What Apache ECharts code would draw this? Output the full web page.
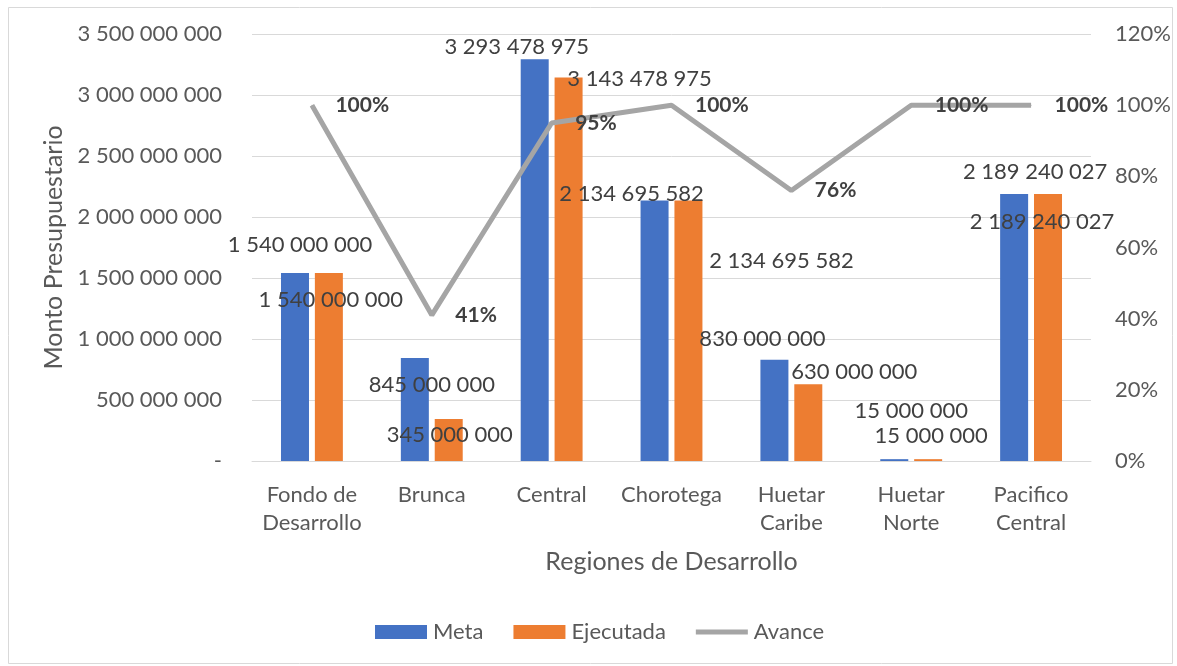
<!DOCTYPE html>
<html>
<head>
<meta charset="utf-8">
<script src="https://cdn.jsdelivr.net/npm/echarts@6/dist/echarts.min.js"></script>
<style>html,body{margin:0;padding:0;background:#fff}#c{width:1177px;height:666px}</style>
</head>
<body>
<div id="c"></div>
<script>
const categories = ['Fondo de\nDesarrollo', 'Brunca', 'Central', 'Chorotega', 'Huetar\nCaribe', 'Huetar\nNorte', 'Pacifico\nCentral'];
const meta = [1540000000, 845000000, 3293478975, 2134695582, 830000000, 15000000, 2189240027];
const ejecutada = [1540000000, 345000000, 3143478975, 2134695582, 630000000, 15000000, 2189240027];
const avance = [100, 41, 95, 100, 76, 100, 100];

// label placement (style only), mimicking the original layout
const metaLabelOffsets = [[5,-12],[17,43],[-18,4],[-23,9],[-12,-5],[17,-32],[21,-6]];
const ejecLabelOffsets = [[2,43],[1,32],[71,17],[93,76],[46,4],[3,-7],[-6,44]];
const avanceLabelOffsets = [[0,4],[0,5],[-28,5],[0,4],[0,5],[0,4],[0,4]];

const FONT = 'Lato';
const fmt = v => String(v).replace(/\B(?=(\d{3})+(?!\d))/g, ' ');

const chart = echarts.init(document.getElementById('c'), null, {renderer: 'canvas'});
chart.setOption({
  animation: false,
  backgroundColor: '#fff',
  textStyle: {fontFamily: FONT},
  graphic: [{
    type: 'rect', left: 6, top: 5, z: -1,
    shape: {width: 1164, height: 656},
    style: {fill: 'none', stroke: '#D9D9D9', lineWidth: 1}
  }],
  grid: {left: 252, right: 86, top: 34, bottom: 205},
  legend: {
    top: 616, left: 370, itemGap: 30, itemWidth: 52, itemHeight: 14,
    textStyle: {fontFamily: FONT, fontSize: 22, color: '#595959', padding: [0,0,0,1]},
    data: [
      {name: 'Meta', icon: 'rect'},
      {name: 'Ejecutada', icon: 'rect'},
      {name: 'Avance', icon: 'path://M0,0 L52,0 L52,5 L0,5 Z'}
    ]
  },
  xAxis: {
    type: 'category', data: categories,
    name: 'Regiones de Desarrollo', nameLocation: 'middle', nameGap: 88,
    nameTextStyle: {fontFamily: FONT, fontSize: 25, color: '#595959'},
    axisLine: {lineStyle: {color: '#D9D9D9'}},
    axisTick: {show: false},
    axisLabel: {fontFamily: FONT, fontSize: 22, color: '#595959', margin: 20, lineHeight: 28, interval: 0}
  },
  yAxis: [{
    type: 'value', min: 0, max: 3500000000, interval: 500000000,
    name: 'Monto Presupuestario', nameLocation: 'middle', nameGap: 178, nameRotate: 90,
    nameTextStyle: {fontFamily: FONT, fontSize: 25, color: '#595959'},
    axisLine: {show: false}, axisTick: {show: false},
    splitLine: {lineStyle: {color: '#D9D9D9', width: 1}},
    axisLabel: {fontFamily: FONT, fontSize: 22, color: '#595959', margin: 30,
      formatter: v => v === 0 ? '-' : fmt(v)}
  }, {
    type: 'value', min: 0, max: 120, interval: 20,
    axisLine: {show: false}, axisTick: {show: false}, splitLine: {show: false},
    axisLabel: {fontFamily: FONT, fontSize: 22, color: '#595959', margin: 24, formatter: '{value}%'}
  }],
  series: [{
    name: 'Meta', type: 'bar', barWidth: 28, barGap: '21%',
    itemStyle: {color: '#4472C4'},
    label: {show: true, position: 'top', distance: 5, fontFamily: FONT, fontSize: 22, lineHeight: 22, color: '#404040',
      formatter: p => fmt(p.value)},
    data: meta.map((v, i) => ({value: v, label: {offset: metaLabelOffsets[i]}}))
  }, {
    name: 'Ejecutada', type: 'bar', barWidth: 28,
    itemStyle: {color: '#ED7D31'},
    label: {show: true, position: 'top', distance: 5, fontFamily: FONT, fontSize: 22, lineHeight: 22, color: '#404040',
      formatter: p => fmt(p.value)},
    data: ejecutada.map((v, i) => ({value: v, label: {offset: ejecLabelOffsets[i]}}))
  }, {
    name: 'Avance', type: 'line', yAxisIndex: 1, symbol: 'circle', symbolSize: 1, showSymbol: true,
    lineStyle: {color: '#A5A5A5', width: 5}, itemStyle: {color: '#A5A5A5'},
    label: {show: true, position: 'right', distance: 23, fontFamily: FONT, fontSize: 21, fontWeight: 'bold', color: '#404040',
      formatter: '{c}%'},
    labelLayout: {hideOverlap: false},
    data: avance.map((v, i) => ({value: v, label: {offset: avanceLabelOffsets[i]}}))
  }]
});
</script>
</body>
</html>
